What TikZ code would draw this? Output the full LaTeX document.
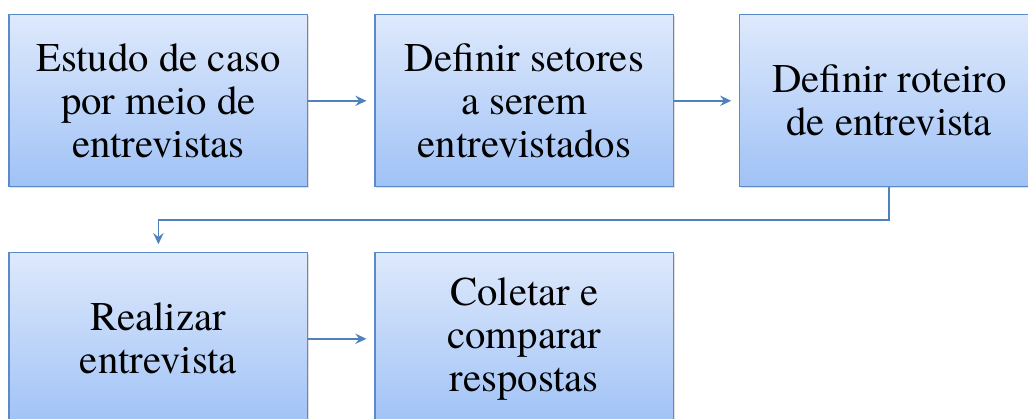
\documentclass[tikz,border=0pt]{standalone}
\usepackage{fontspec}
\newfontfamily\boxfont{texgyretermes-regular.otf}
\usepackage{xcolor}
\usetikzlibrary{arrows.meta,positioning,shadows,calc}

\definecolor{boxtop}{RGB}{222,233,252}
\definecolor{boxbot}{RGB}{160,194,246}
\definecolor{boxline}{RGB}{91,138,200}
\definecolor{arrline}{RGB}{79,129,189}

\begin{document}
\begin{tikzpicture}[
    block/.style={rectangle, draw=boxline, line width=0.8pt, top color=boxtop, bottom color=boxbot, minimum height=4.3cm, minimum width=7.47cm, inner sep=2pt, align=center, font=\boxfont\fontsize{29}{30.6}\selectfont, drop shadow={opacity=0.25, shadow xshift=1pt, shadow yshift=-1.2pt}},
    arrow/.style={-{Stealth[length=2.8mm, width=2.6mm, inset=1mm]}, line width=1.1pt, draw=arrline, shorten >=0.2cm}
]
\useasboundingbox (0,0) rectangle (25.7,-10.45);
\node[block] (estudo)   at (3.96,-2.52)  {Estudo de caso\\por meio de\\entrevistas};
\node[block] (setores)  at (13.11,-2.52) {Definir setores\\a serem\\entrevistados};
\node[block] (roteiro)  at (22.23,-2.52) {Definir roteiro\\de entrevista};
\node[block] (realizar) at (3.96,-8.47)  {Realizar\\entrevista};
\node[block] (coletar)  at (13.11,-8.47) {Coletar e\\comparar\\respostas};
\draw[arrow] (estudo) -- (setores);
\draw[arrow] (setores) -- (roteiro);
\draw[arrow] (realizar) -- (coletar);
\coordinate (turn) at ($(roteiro.south)+(0,-0.82)$);
\draw[arrow] (roteiro.south) -- (turn) -| (realizar.north);
\end{tikzpicture}
\end{document}
